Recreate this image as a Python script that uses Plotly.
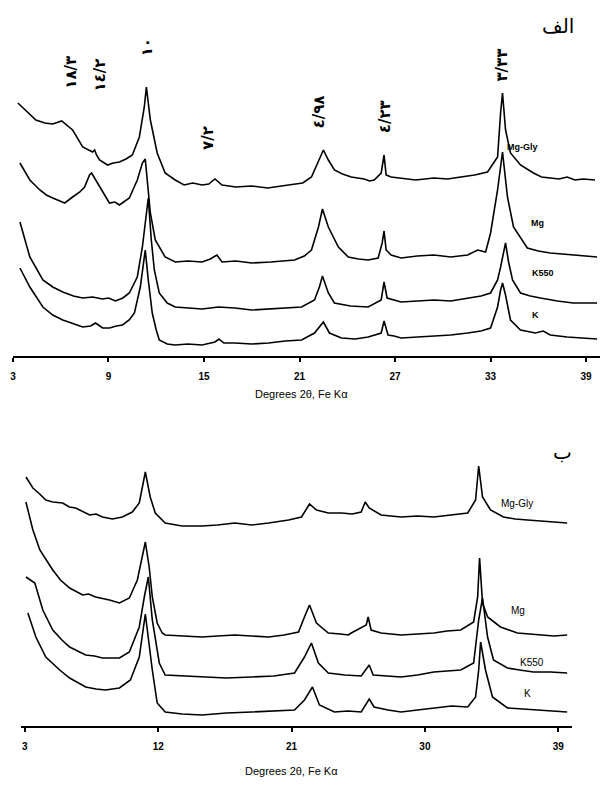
import plotly.graph_objects as go

# ---------------- Panel A (الف) ----------------
a_mggly_x = [3.31, 3.75, 4.44, 5.0, 5.5, 6.06, 6.4, 6.75, 7.38, 7.7, 8.0, 8.13, 8.25, 8.44, 8.94, 9.3, 9.69,
             10.1, 10.5, 10.94, 11.25, 11.38, 11.63, 12.06, 12.56, 13.19, 13.75, 14.3, 14.88, 15.3, 15.69,
             16.13, 17.0, 18.0, 19.0, 20.31, 21.2, 21.75, 22.25, 22.5, 22.81, 23.19, 23.7, 24.25, 25.06,
             25.4, 25.69, 26.13, 26.31, 26.44, 26.75, 27.38, 28.3, 29.44, 30.3, 31.13, 32.0, 32.81, 33.44,
             33.63, 33.75, 33.94, 34.25, 34.88, 35.69, 36.2, 36.75, 37.3, 37.81, 38.3, 38.81, 39.56]
a_mggly_y = [253, 246, 236, 233, 232, 235, 231, 226, 209, 206, 204, 206, 201, 196, 191, 193, 194,
             197, 201, 219, 249, 269, 236, 203, 183, 176, 171, 173, 171, 172, 177,
             171, 169, 170, 168, 171, 173, 179, 196, 206, 196, 186, 182, 179, 177,
             175, 176, 183, 201, 181, 179, 178, 176, 178, 177, 179, 181, 184, 199,
             243, 263, 226, 203, 191, 183, 179, 178, 177, 179, 176, 177, 176]

a_mg_x = [3.44, 4.06, 4.69, 5.1, 5.5, 5.9, 6.25, 6.75, 7.2, 7.5, 7.81, 7.94, 8.2, 8.44, 8.8, 9.06, 9.4, 9.69,
          10.31, 10.81, 11.13, 11.31, 11.63, 11.94, 12.56, 13.19, 14.0, 14.88, 15.4, 15.81, 16.13, 17.0,
          18.0, 19.2, 20.69, 21.3, 21.75, 22.19, 22.44, 22.81, 23.44, 24.06, 24.7, 25.31, 25.94, 26.19,
          26.31, 26.44, 26.75, 27.38, 28.4, 29.44, 30.5, 31.56, 32.19, 32.69, 33.0, 33.44, 33.75, 34.06,
          34.44, 35.31, 36.0, 36.75, 37.5, 38.19, 38.9, 39.69]
a_mg_y = [193, 176, 166, 161, 158, 155, 153, 159, 164, 169, 181, 183, 176, 169, 160, 153, 154, 151,
          158, 176, 193, 197, 143, 116, 99, 94, 95, 94, 97, 101, 94, 95,
          93, 94, 96, 100, 106, 129, 147, 129, 109, 99, 97, 96, 98, 113,
          125, 106, 101, 98, 100, 101, 99, 101, 106, 104, 123, 166, 204, 159,
          129, 108, 105, 103, 102, 101, 100, 99]

a_k550_x = [3.44, 4.06, 4.88, 5.5, 6.13, 6.8, 7.38, 8.0, 8.63, 9.0, 9.44, 9.9, 10.31, 10.81, 11.13, 11.31,
            11.5, 11.69, 11.88, 12.19, 12.69, 13.19, 14.0, 14.88, 15.9, 16.94, 18.0, 19.06, 20.1, 21.13,
            21.94, 22.25, 22.44, 22.81, 23.19, 24.2, 25.31, 26.13, 26.31, 26.5, 27.38, 28.4, 29.44, 30.5,
            31.56, 32.4, 33.0, 33.44, 33.63, 33.94, 34.13, 34.38, 34.88, 35.5, 36.13, 37.2, 38.19, 39.69]
a_k550_y = [134, 99, 76, 69, 64, 60, 58, 59, 57, 58, 55, 58, 63, 79, 109, 131,
            158, 116, 86, 63, 53, 49, 48, 47, 49, 48, 46, 47, 48, 49,
            56, 69, 80, 63, 53, 50, 49, 56, 74, 58, 54, 55, 56, 55,
            58, 60, 63, 76, 89, 113, 94, 76, 63, 60, 58, 55, 53, 53]

a_k_x = [3.44, 4.06, 4.88, 5.5, 6.13, 6.8, 7.38, 7.88, 8.19, 8.63, 9.06, 9.5, 9.88, 10.3, 10.63, 11.0, 11.19,
         11.31, 11.5, 11.75, 12.0, 12.19, 12.69, 13.19, 14.0, 14.88, 15.69, 15.94, 16.25, 16.94, 18.0,
         19.06, 20.1, 21.13, 21.94, 22.25, 22.5, 22.88, 23.63, 24.5, 25.31, 26.13, 26.31, 26.56, 26.94,
         27.38, 28.4, 29.44, 30.5, 31.56, 32.4, 33.0, 33.44, 33.63, 33.75, 33.94, 34.25, 34.88, 35.81,
         36.31, 36.75, 37.81, 38.7, 39.69]
a_k_y = [88, 69, 49, 41, 36, 32, 29, 30, 33, 28, 28, 30, 31, 36, 43, 69, 91,
         106, 76, 43, 26, 16, 12, 11, 12, 11, 14, 17, 13, 13, 12,
         13, 15, 16, 23, 29, 34, 23, 18, 17, 19, 23, 35, 21, 20,
         18, 19, 20, 21, 23, 25, 28, 49, 66, 73, 61, 36, 26, 23,
         25, 21, 19, 18, 17]

# ---------------- Panel B (ب) ----------------
b_mggly_x = [3.07, 3.54, 4.0, 4.41, 4.88, 5.55, 6.0, 6.43, 7.37, 7.8, 8.24, 8.91, 9.58, 10.25, 10.72, 10.99,
             11.13, 11.46, 11.80, 12.47, 13.61, 14.95, 16.0, 17.17, 18.31, 19.45, 20.80, 21.67, 22.01,
             22.21, 22.68, 23.48, 24.36, 25.10, 25.70, 25.97, 26.24, 27.04, 28.39, 29.5, 30.60, 31.8,
             32.89, 33.42, 33.56, 33.63, 33.89, 34.43, 35.30, 36.1, 36.92, 37.7, 38.46, 39.60]
b_mggly_y = [249, 238, 232, 226, 224, 223, 219, 218, 211, 212, 209, 207, 209, 214, 223, 243,
             254, 229, 213, 203, 200, 200, 201, 203, 201, 203, 206, 209, 218,
             222, 216, 213, 213, 212, 214, 224, 218, 211, 209, 210, 209, 211,
             213, 226, 246, 260, 229, 216, 209, 207, 206, 205, 204, 203]

b_mg_x = [3.07, 3.54, 4.01, 4.88, 5.4, 6.02, 6.90, 7.3, 7.77, 8.71, 9.38, 10.05, 10.59, 10.92, 11.13, 11.39,
          11.60, 11.93, 12.27, 12.47, 13.6, 14.95, 16.0, 17.17, 18.3, 19.45, 20.5, 21.47, 21.87, 22.21,
          22.68, 23.48, 24.3, 24.83, 25.03, 26.04, 26.17, 26.37, 27.04, 28.39, 29.5, 30.60, 31.5, 32.42,
          33.29, 33.56, 33.69, 33.89, 34.23, 35.10, 36.24, 37.0, 37.79, 38.7, 39.60]
b_mg_y = [224, 196, 176, 156, 146, 138, 131, 132, 129, 126, 123, 128, 146, 169, 184, 159,
          129, 103, 93, 91, 90, 89, 90, 91, 90, 89, 91, 94, 109, 121,
          103, 93, 92, 91, 93, 101, 109, 96, 93, 91, 92, 93, 95, 96,
          104, 129, 168, 123, 109, 99, 93, 92, 91, 90, 91]

b_k550_x = [3.07, 3.67, 4.21, 4.88, 5.5, 6.02, 7.10, 7.7, 8.24, 9.38, 10.05, 10.72, 11.06, 11.33, 11.60,
            12.07, 12.47, 13.7, 14.95, 16.6, 18.31, 19.8, 21.20, 21.87, 22.34, 22.81, 23.48, 24.6, 25.70,
            26.17, 26.24, 26.51, 27.4, 28.39, 29.5, 30.60, 31.5, 32.42, 33.29, 33.63, 33.89, 34.23, 34.63,
            35.57, 36.4, 37.32, 38.5, 39.60]
b_k550_y = [149, 143, 116, 96, 86, 79, 71, 70, 68, 68, 74, 99, 129, 149, 106,
            63, 51, 50, 49, 48, 49, 50, 53, 69, 83, 63, 53, 51, 50,
            59, 61, 51, 50, 49, 51, 54, 55, 56, 63, 106, 128, 89, 66,
            58, 56, 54, 54, 53]

b_k_x = [3.20, 3.74, 4.41, 5.35, 6.02, 6.6, 7.10, 7.8, 8.44, 9.38, 10.12, 10.72, 10.99, 11.13, 11.60, 11.93,
         12.47, 13.61, 14.95, 16.6, 18.31, 19.8, 21.20, 21.87, 22.41, 22.88, 23.89, 24.8, 25.70, 26.24,
         26.57, 27.51, 28.39, 29.5, 30.60, 31.8, 32.89, 33.42, 33.63, 33.76, 34.09, 34.56, 35.57, 36.5,
         37.32, 38.5, 39.60]
b_k_y = [113, 89, 69, 56, 48, 43, 39, 37, 36, 38, 46, 69, 96, 112, 56, 23,
         14, 12, 11, 13, 14, 15, 16, 26, 39, 21, 14, 15, 14, 27,
         19, 16, 14, 16, 18, 20, 19, 29, 56, 84, 56, 29, 18, 17,
         16, 15, 14]

series_names = ["Mg-Gly", "Mg", "K550", "K"]
a_label_pos = [(35.0, 209), (35.94, 133), (36.31, 83), (35.81, 41)]
b_label_pos = [(36.24, 223), (36.31, 116), (37.25, 64), (36.91, 33)]

peak_labels = ["١٨/٣", "١٤/٢", "١٠", "٧/٢", "٤/٩٨", "٤/٢٣", "٣/٣٣"]
peak_label_x = [6.63, 8.44, 11.44, 15.25, 22.25, 26.38, 33.69]
peak_label_y = [284, 281, 309, 218, 244, 239, 291]

a_ticks = [3, 9, 15, 21, 27, 33, 39]
b_ticks = [3, 12, 21, 30, 39]
x_title = "Degrees 2θ, Fe Kα"

W, H = 605, 785
fig = go.Figure()
line = dict(color="black", width=1.6)

for xs, ys in [(a_mggly_x, a_mggly_y), (a_mg_x, a_mg_y), (a_k550_x, a_k550_y), (a_k_x, a_k_y)]:
    fig.add_trace(go.Scatter(x=xs, y=ys, mode="lines", line=line, xaxis="x", yaxis="y",
                             showlegend=False, hoverinfo="skip"))
for xs, ys in [(b_mggly_x, b_mggly_y), (b_mg_x, b_mg_y), (b_k550_x, b_k550_y), (b_k_x, b_k_y)]:
    fig.add_trace(go.Scatter(x=xs, y=ys, mode="lines", line=line, xaxis="x2", yaxis="y2",
                             showlegend=False, hoverinfo="skip"))

annotations = []
for name, (lx, ly) in zip(series_names, a_label_pos):
    annotations.append(dict(x=lx, y=ly, xref="x", yref="y", text=name, showarrow=False,
                            font=dict(family="Liberation Sans", size=9, color="black", weight="bold")))
for name, (lx, ly) in zip(series_names, b_label_pos):
    annotations.append(dict(x=lx, y=ly, xref="x2", yref="y2", text=name, showarrow=False,
                            font=dict(family="Liberation Sans", size=10, color="black")))
for t, lx, ly in zip(peak_labels, peak_label_x, peak_label_y):
    annotations.append(dict(x=lx, y=ly, xref="x", yref="y", text=t, showarrow=False, textangle=-90,
                            font=dict(family="DejaVu Sans", size=15, color="black", weight="bold")))

annotations.append(dict(x=300 / W, y=1 - 394 / H, xref="paper", yref="paper", text=x_title,
                        showarrow=False, font=dict(family="Liberation Sans", size=11, color="black")))
annotations.append(dict(x=290 / W, y=1 - 779 / H, xref="paper", yref="paper", text=x_title,
                        showarrow=False, font=dict(family="Liberation Sans", size=11, color="black")))
annotations.append(dict(x=576 / W, y=1 - 12 / H, xref="paper", yref="paper", text="الف",
                        showarrow=False, font=dict(family="DejaVu Sans", size=20, color="black")))
annotations.append(dict(x=574 / W, y=1 - 452 / H, xref="paper", yref="paper", text="ب",
                        showarrow=False, font=dict(family="DejaVu Sans", size=20, color="black")))

axis_common = dict(showgrid=False, zeroline=False, showline=True, linecolor="black", linewidth=2,
                   ticks="outside", ticklen=4, tickwidth=1.5, tickcolor="black",
                   tickfont=dict(family="Liberation Sans", size=10, color="black", weight="bold"),
                   ticklabelstandoff=6)
yaxis_common = dict(visible=False, showgrid=False, zeroline=False)

fig.update_layout(
    width=W, height=H, margin=dict(l=0, r=0, t=0, b=0),
    paper_bgcolor="white", plot_bgcolor="white",
    xaxis=dict(domain=[10 / W, 600 / W], range=[3, 39.875], tickvals=a_ticks, anchor="y", **axis_common),
    yaxis=dict(domain=[1 - 356 / H, 1 - 20 / H], range=[0, 336], anchor="x", **yaxis_common),
    xaxis2=dict(domain=[18 / W, 572 / W], range=[2.731, 39.94], tickvals=b_ticks, anchor="y2", **axis_common),
    yaxis2=dict(domain=[1 - 726 / H, 1 - 440 / H], range=[0, 286], anchor="x2", **yaxis_common),
    annotations=annotations,
)

fig.write_html("out.html", config={"displayModeBar": False},
               post_script="document.body.style.margin='0';")
